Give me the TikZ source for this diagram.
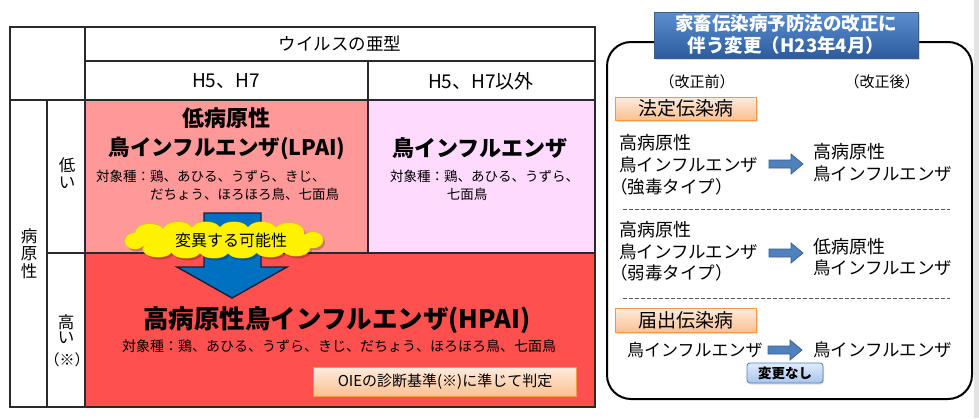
\documentclass[tikz,border=0pt]{standalone}
\usepackage{fontspec}
\setmainfont{Noto Sans CJK JP}
\usetikzlibrary{shadows}
\definecolor{lowred}{HTML}{FF9999}
\definecolor{lowpink}{HTML}{FFDAFF}
\definecolor{highred}{HTML}{FF5050}
\definecolor{arrblue}{HTML}{0070C0}
\definecolor{arrline}{HTML}{10223A}
\definecolor{smblue}{HTML}{4F81BD}
\definecolor{smline}{HTML}{385D8A}
\definecolor{peachtop}{HTML}{FDEBDD}
\definecolor{peachbot}{HTML}{FAC090}
\definecolor{peachline}{HTML}{F79646}
\definecolor{titletop}{HTML}{5B8ED0}
\definecolor{titlebot}{HTML}{2D5C9E}
\definecolor{nctop}{HTML}{E1ECFA}
\definecolor{ncbot}{HTML}{A6C4EC}
\definecolor{gridc}{HTML}{2A2A2A}
\definecolor{cloudedge}{HTML}{D8C400}
\tikzset{
  fs/.style={font=\fontsize{#1}{#1}\selectfont},
  txt/.style={inner sep=0pt, outer sep=0pt},
  grid/.style={draw=gridc, line width=1.2pt},
  tagbox/.style={draw=peachline, line width=0.8pt, top color=peachtop, bottom color=peachbot,
     drop shadow={opacity=0.25, shadow xshift=1.5pt, shadow yshift=-1.5pt}, inner sep=0pt},
  blockarr/.style={fill=smblue, draw=smline, line width=0.7pt},
  sep/.style={draw=gray!70!black, line width=0.8pt, dash pattern=on 3.5pt off 2.5pt},
}
\newcommand\cloudpuffs{%
  (224,240) ellipse [x radius=90, y radius=13]
  (135,241) ellipse [x radius=10, y radius=8] (313,240) ellipse [x radius=10, y radius=8]
  (150,233) ellipse [x radius=15, y radius=9] (178,231) ellipse [x radius=15, y radius=9]
  (206,231) ellipse [x radius=15, y radius=9] (234,231) ellipse [x radius=15, y radius=9]
  (262,231) ellipse [x radius=15, y radius=9] (289,232) ellipse [x radius=15, y radius=9]
  (158,249) ellipse [x radius=15, y radius=8] (186,250) ellipse [x radius=15, y radius=8]
  (214,250) ellipse [x radius=15, y radius=8] (242,250) ellipse [x radius=15, y radius=8]
  (270,249) ellipse [x radius=15, y radius=8] (296,248) ellipse [x radius=14, y radius=8]}
\begin{document}
\begin{tikzpicture}[x=1pt,y=-1pt]
\useasboundingbox (0,0) rectangle (979,418);
\fill[white] (0,0) rectangle (979,418);
\fill[gray!22] (974,0) rectangle (979,418);
% ---------- table fills
\fill[lowred] (85,100) rectangle (368,253);
\fill[lowpink] (368,100) rectangle (595,253);
\fill[highred] (85,253) rectangle (595,407);
% ---------- grid
\draw[grid] (10,27) rectangle (595,407);
\draw[grid] (85,27) -- (85,407);
\draw[grid] (85,61) -- (595,61);
\draw[grid] (10,100) -- (595,100);
\draw[grid] (368,61) -- (368,253);
\draw[grid] (47,100) -- (47,407);
\draw[grid] (47,253) -- (595,253);
% ---------- headers
\node[txt, fs=17.5] (hdr) at (340,44) {ウイルスの亜型};
\node[txt, fs=19] (h57) at (226,81) {H5、H7};
\node[txt, fs=19] (h57x) at (481,81) {H5、H7以外};
\node[txt, fs=16.5] (p1) at (29,236) {病};
\node[txt, fs=16.5] (p2) at (29,254) {原};
\node[txt, fs=16.5] (p3) at (29,271) {性};
\node[txt, fs=16.5] (low1) at (67,165) {低};
\node[txt, fs=16.5] (low2) at (67,183) {い};
\node[txt, fs=16.5] (high1) at (66,322) {高};
\node[txt, fs=16.5] (high2) at (66,338) {い};
\node[txt, fs=15] (high3) at (67,360) {（※）};
% ---------- big arrow and cloud
\draw[fill=arrblue, draw=arrline, line width=1.4pt, line join=miter]
  (204,213) -- (261,213) -- (261,267) -- (287,267) -- (232,298) -- (177,267) -- (204,267) -- cycle;
\fill[black, opacity=0.22] [shift={(2,2.5)}] \cloudpuffs;
\draw[cloudedge, line width=1pt] \cloudpuffs;
\fill[yellow] \cloudpuffs;
\node[txt, fs=16] (mut) at (231,240) {変異する可能性};
% ---------- LPAI cell
\node[txt, font=\bfseries\fontsize{22}{22}\selectfont] (lp1) at (226,118) {低病原性};
\node[txt, font=\bfseries\fontsize{21.5}{21.5}\selectfont] (lp2) at (227,148) {鳥インフルエンザ(LPAI)};
\node[txt, fs=13.5, anchor=west] (lp3) at (96,176) {対象種：鶏、あひる、うずら、きじ、};
\node[txt, fs=13.5, anchor=west] (lp4) at (150,194) {だちょう、ほろほろ鳥、七面鳥};
% ---------- AI cell
\node[txt, font=\bfseries\fontsize{22}{22}\selectfont] (ai1) at (480,148) {鳥インフルエンザ};
\node[txt, fs=13.5, anchor=west] (ai2) at (390,176) {対象種：鶏、あひる、うずら、};
\node[txt, fs=13.5] (ai3) at (467,194) {七面鳥};
% ---------- HPAI cell
\node[txt, font=\bfseries\fontsize{25.5}{25.5}\selectfont] (hp1) at (337,320) {高病原性鳥インフルエンザ(HPAI)};
\node[txt, fs=14] (hp2) at (339,346) {対象種：鶏、あひる、うずら、きじ、だちょう、ほろほろ鳥、七面鳥};
\node[tagbox, minimum width=263pt, minimum height=29pt, fs=15] (oie) at (445,382) {OIEの診断基準(※)に準じて判定};
% ---------- right panel
\draw[line width=2pt, rounded corners=24pt] (607,42) rectangle (972,399);
\node[draw=smline, line width=0.8pt, top color=titletop, bottom color=titlebot, text=white,
  minimum width=264pt, minimum height=46pt, inner sep=0pt, align=center,
  drop shadow={opacity=0.3, shadow xshift=2pt, shadow yshift=-2pt},
  font=\bfseries\fontsize{18.5}{22}\selectfont] (title) at (786,35) {家畜伝染病予防法の改正に\\伴う変更（H23年4月）};
\node[txt, fs=15] (before) at (697,82) {（改正前）};
\node[txt, fs=15] (after) at (882,82) {（改正後）};
\node[tagbox, minimum width=141pt, minimum height=23pt, fs=19] (legal) at (685.5,108.5) {法定伝染病};
% block 1
\node[txt, fs=18, anchor=west] (a1) at (619,143) {高病原性};
\node[txt, fs=17.5, anchor=west] (a2) at (619,165) {鳥インフルエンザ};
\node[txt, fs=17.5, anchor=west] (a3) at (610,187) {（強毒タイプ）};
\node[txt, fs=18, anchor=west] (b1) at (813,152) {高病原性};
\node[txt, fs=17.5, anchor=west] (b2) at (813,174) {鳥インフルエンザ};
\begin{scope}[shift={(769,164)}]
\draw[blockarr] (0,-4) -- (22,-4) -- (22,-10) -- (34,0) -- (22,10) -- (22,4) -- (0,4) -- cycle;
\end{scope}
\draw[sep] (623,209) -- (950,209);
% block 2
\node[txt, fs=18, anchor=west] (c1) at (619,230) {高病原性};
\node[txt, fs=17.5, anchor=west] (c2) at (619,252) {鳥インフルエンザ};
\node[txt, fs=17.5, anchor=west] (c3) at (610,273) {（弱毒タイプ）};
\node[txt, fs=18, anchor=west] (d1) at (813,247) {低病原性};
\node[txt, fs=17.5, anchor=west] (d2) at (813,268) {鳥インフルエンザ};
\begin{scope}[shift={(769,253)}]
\draw[blockarr] (0,-4) -- (22,-4) -- (22,-10) -- (34,0) -- (22,10) -- (22,4) -- (0,4) -- cycle;
\end{scope}
\draw[sep] (623,298) -- (950,298);
% block 3
\node[tagbox, minimum width=141pt, minimum height=24pt, fs=19] (notif) at (685.5,320.5) {届出伝染病};
\node[txt, fs=17, anchor=west] (e1) at (627,350) {鳥インフルエンザ};
\node[txt, fs=17.5, anchor=west] (e2) at (813,350) {鳥インフルエンザ};
\begin{scope}[shift={(768,350)}]
\draw[blockarr] (0,-4) -- (22,-4) -- (22,-10) -- (34,0) -- (22,10) -- (22,4) -- (0,4) -- cycle;
\end{scope}
\node[draw=smblue, line width=0.8pt, rounded corners=3pt, top color=nctop, bottom color=ncbot,
  minimum width=76pt, minimum height=20pt, inner sep=0pt,
  drop shadow={opacity=0.25, shadow xshift=1pt, shadow yshift=-1.5pt},
  font=\bfseries\fontsize{13.5}{13.5}\selectfont] (nochg) at (785,373) {変更なし};
\end{tikzpicture}
\end{document}
